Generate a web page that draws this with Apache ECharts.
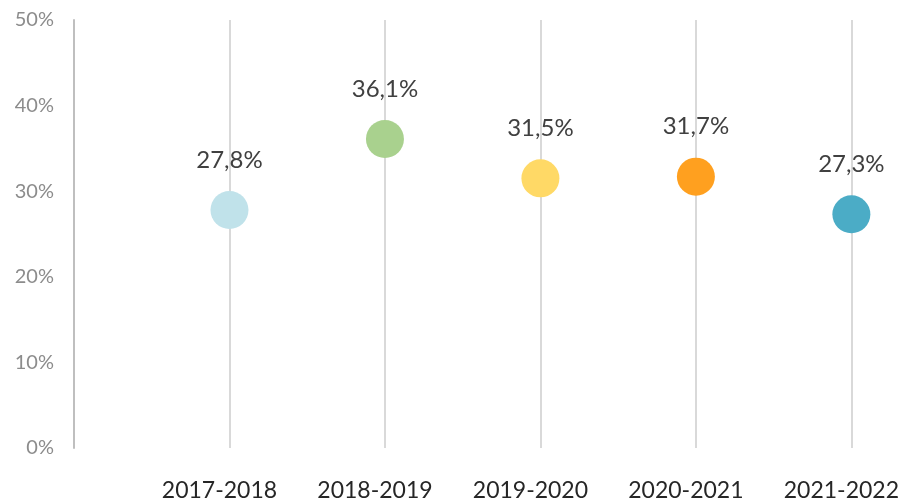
<!DOCTYPE html>
<html>
<head>
<meta charset="utf-8">
<script src="https://cdn.jsdelivr.net/npm/echarts@6/dist/echarts.min.js"></script>
<style>
  html, body { margin: 0; padding: 0; background: #fff; }
  #chart { width: 902px; height: 502px; }
</style>
</head>
<body>
<div id="chart"></div>
<script>
// data
const categories = ['2017-2018', '2018-2019', '2019-2020', '2020-2021', '2021-2022']
const values = [27.8, 36.1, 31.5, 31.7, 27.3]
const colors = ['#C0E2EA', '#A9D18E', '#FFD966', '#FFA01F', '#4BACC6']
const yTicks = [0, 10, 20, 30, 40, 50]

const fontFamily = 'Lato, "DejaVu Sans", sans-serif'

// empty first slot so the points sit on lines 1..5
const xData = [''].concat(categories)
const points = values.map((v, i) => ({
  value: [i + 1, v],
  itemStyle: { color: colors[i], opacity: 1 }
}))

const chart = echarts.init(document.getElementById('chart'))

chart.setOption({
  animation: false,
  grid: { left: 74, right: 49, top: 20, bottom: 54, containLabel: false },
  xAxis: {
    type: 'category',
    data: xData,
    boundaryGap: false,
    axisLine: { show: false },
    axisTick: { show: false },
    axisLabel: {
      interval: 0,
      margin: 31,
      color: '#262626',
      fontSize: 23,
      fontFamily: fontFamily,
      padding: [0, 20, 0, 0]
    },
    splitLine: { show: true, lineStyle: { color: '#d9d9d9', width: 2 } }
  },
  yAxis: {
    type: 'value',
    min: yTicks[0],
    max: yTicks[yTicks.length - 1],
    interval: 10,
    axisLine: { show: true, lineStyle: { color: '#bfbfbf', width: 2 } },
    axisTick: { show: false },
    splitLine: { show: false },
    axisLabel: {
      margin: 20,
      color: '#8c8c8c',
      fontSize: 20,
      fontFamily: fontFamily,
      formatter: v => v + '%'
    }
  },
  series: [{
    type: 'scatter',
    data: points,
    symbolSize: 38,
    label: {
      show: true,
      position: 'top',
      distance: 19,
      color: '#404040',
      fontSize: 24,
      fontFamily: fontFamily,
      formatter: p => p.value[1].toFixed(1).replace('.', ',') + '%'
    }
  }]
})
</script>
</body>
</html>
